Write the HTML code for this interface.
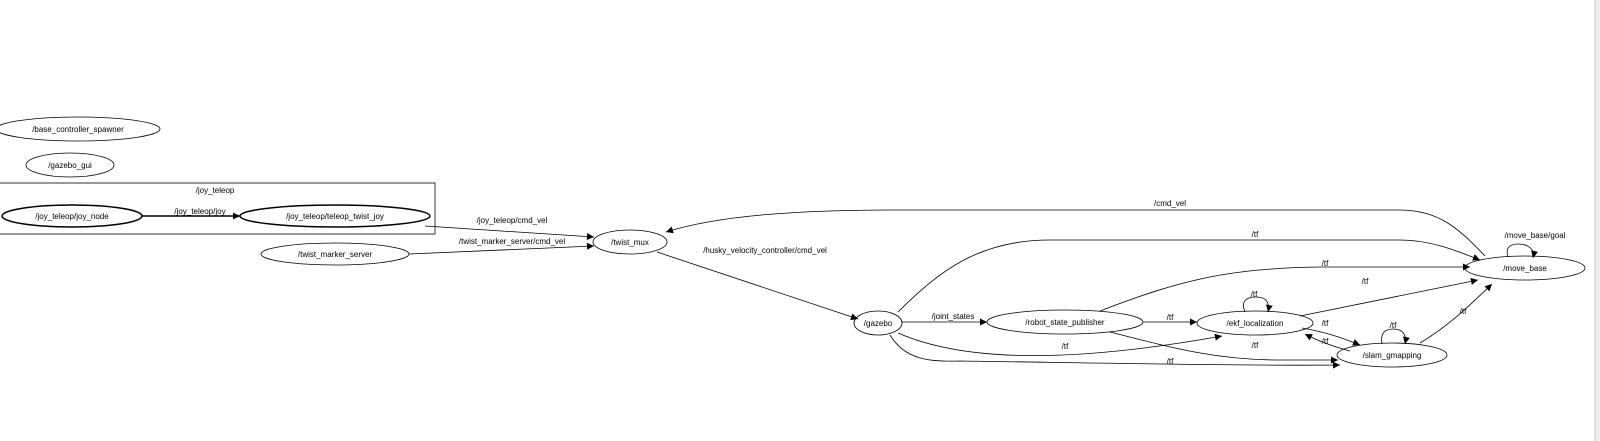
<!DOCTYPE html>
<html><head><meta charset="utf-8"><style>
html,body{margin:0;padding:0;background:#fff;width:1600px;height:441px;overflow:hidden}
text{font-family:"Liberation Sans",sans-serif;font-size:8px;fill:#000;text-anchor:middle}
.e{fill:none;stroke:#000;stroke-width:0.8}
.b{fill:none;stroke:#000;stroke-width:1.5}
</style></head><body>
<svg width="1600" height="441" viewBox="0 0 1600 441" xmlns="http://www.w3.org/2000/svg">
<defs><marker id="a" viewBox="0 0 10 10" refX="10" refY="5" markerWidth="9" markerHeight="7" orient="auto" markerUnits="userSpaceOnUse"><path d="M0,0L10,5L0,10z" fill="#000"/></marker></defs>
<rect x="1595" y="0" width="5" height="441" fill="#eee"/><line x1="1595" y1="0" x2="1595" y2="441" stroke="#ccc"/>
<ellipse class="e" cx="78" cy="129" rx="82" ry="12"/><text x="78" y="132">/base_controller_spawner</text>
<ellipse class="e" cx="70" cy="165" rx="44" ry="12"/><text x="70" y="168">/gazebo_gui</text>
<rect x="-1" y="183" width="436" height="51" fill="none" stroke="#000" stroke-width="0.8"/>
<text x="215" y="193">/joy_teleop</text>
<ellipse class="b" cx="72" cy="216" rx="70" ry="11"/><text x="72" y="219">/joy_teleop/joy_node</text>
<ellipse class="b" cx="335" cy="216" rx="95" ry="11"/><text x="335" y="219">/joy_teleop/teleop_twist_joy</text>
<ellipse class="e" cx="335" cy="254" rx="74" ry="11"/><text x="335" y="257">/twist_marker_server</text>
<ellipse class="e" cx="630" cy="242" rx="37" ry="12"/><text x="630" y="245">/twist_mux</text>
<ellipse class="e" cx="878" cy="323" rx="24" ry="12"/><text x="878" y="326">/gazebo</text>
<ellipse class="e" cx="1065" cy="322" rx="78" ry="12"/><text x="1065" y="325">/robot_state_publisher</text>
<ellipse class="e" cx="1255" cy="323" rx="58" ry="12"/><text x="1255" y="326">/ekf_localization</text>
<ellipse class="e" cx="1392" cy="355" rx="55" ry="12"/><text x="1392" y="358">/slam_gmapping</text>
<ellipse class="e" cx="1525" cy="268" rx="60" ry="12"/><text x="1525" y="271">/move_base</text>
<g class="e" marker-end="url(#a)">
<path class="b" d="M142,216L240,216" marker-end="url(#a)"/>
<path d="M425,226L594,237"/>
<path d="M409,254L594,246"/>
<path d="M1485,256C1460,230 1440,210 1400,210L900,210C800,210 720,215 666,232"/>
<path d="M657,252L858,319"/>
<path d="M902,322L987,322"/>
<path d="M1143,322L1197,322"/>
<path d="M898,312C940,270 980,240 1050,240L1400,240C1430,240 1455,250 1480,260"/>
<path d="M1100,311C1180,280 1230,268 1320,267L1470,267"/>
<path d="M1300,316L1478,280"/>
<path d="M1245,312C1240,300 1248,297 1256,297C1266,297 1270,302 1268,312"/>
<path d="M1302,328C1325,332 1340,337 1360,345"/>
<path d="M1350,351C1335,347 1320,342 1305,334"/>
<path d="M1382,344C1380,332 1386,329 1393,329C1402,329 1407,334 1405,344"/>
<path d="M1420,343C1450,325 1470,305 1492,284"/>
<path d="M898,333C960,360 1060,365 1222,336"/>
<path d="M890,335C905,360 930,362 960,361C1100,363 1250,366 1340,365"/>
<path d="M1110,332C1180,350 1220,360 1280,360L1338,360"/>
<path d="M1508,257C1505,248 1510,244 1518,244C1528,244 1535,249 1533,258"/>
</g>
<text x="200" y="214">/joy_teleop/joy</text>
<text x="512" y="223">/joy_teleop/cmd_vel</text>
<text x="512" y="244">/twist_marker_server/cmd_vel</text>
<text x="1170" y="206">/cmd_vel</text>
<text x="765" y="253">/husky_velocity_controller/cmd_vel</text>
<text x="953" y="319">/joint_states</text>
<text x="1170" y="320">/tf</text>
<text x="1255" y="237">/tf</text>
<text x="1325" y="266">/tf</text>
<text x="1365" y="284">/tf</text>
<text x="1254" y="297">/tf</text>
<text x="1325" y="326">/tf</text>
<text x="1325" y="344">/tf</text>
<text x="1393" y="328">/tf</text>
<text x="1463" y="314">/tf</text>
<text x="1065" y="349">/tf</text>
<text x="1170" y="364">/tf</text>
<text x="1255" y="348">/tf</text>
<text x="1535" y="238">/move_base/goal</text>
</svg>
</body></html>
